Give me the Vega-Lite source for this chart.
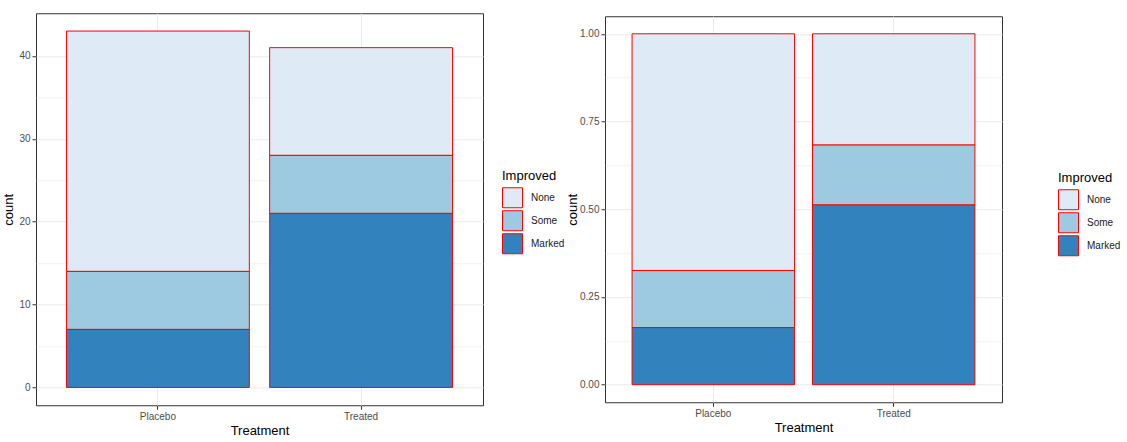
{
  "$schema": "https://vega.github.io/schema/vega-lite/v6.json",
  "padding": {"left": 2, "top": 12, "right": 0, "bottom": 0},
  "background": "white",
  "datasets": {
    "arthritis": [
      {"Treatment": "Placebo", "Improved": "None", "level": 1, "count": 29},
      {"Treatment": "Placebo", "Improved": "Some", "level": 2, "count": 7},
      {"Treatment": "Placebo", "Improved": "Marked", "level": 3, "count": 7},
      {"Treatment": "Treated", "Improved": "None", "level": 1, "count": 13},
      {"Treatment": "Treated", "Improved": "Some", "level": 2, "count": 7},
      {"Treatment": "Treated", "Improved": "Marked", "level": 3, "count": 21}
    ]
  },
  "spacing": 0,
  "center": true,
  "hconcat": [
    {
      "width": 447,
      "height": 392,
      "data": {"name": "arthritis"},
      "mark": {"type": "bar", "stroke": "red", "strokeWidth": 1},
      "encoding": {
        "x": {
          "field": "Treatment", "type": "nominal",
          "scale": {"paddingInner": 0.1, "paddingOuter": 0.15},
          "axis": {"title": "Treatment", "labelAngle": 0, "bandPosition": 0.5, "grid": true, "gridWidth": 1}
        },
        "y": {
          "field": "count", "type": "quantitative", "stack": "zero",
          "scale": {"domain": [-2.15, 45.15], "nice": false, "zero": false},
          "axis": {
            "title": "count",
            "values": [0, 5, 10, 15, 20, 25, 30, 35, 40],
            "labelExpr": "datum.value % 10 === 0 ? format(datum.value, 'd') : ''",
            "tickOpacity": {"condition": {"test": "datum.value % 10 !== 0", "value": 0}, "value": 1},
            "gridWidth": {"condition": {"test": "datum.value % 10 !== 0", "value": 0.6}, "value": 1.1}
          }
        },
        "color": {
          "field": "Improved", "type": "nominal",
          "scale": {"domain": ["None", "Some", "Marked"], "range": ["#DEEBF7", "#9ECAE1", "#3182BD"]},
          "legend": {"orient": "none", "legendX": 466, "legendY": 157, "rowPadding": -7}
        },
        "order": {"field": "level", "type": "quantitative", "sort": "descending"}
      }
    },
    {
      "width": 397,
      "height": 386,
      "data": {"name": "arthritis"},
      "mark": {"type": "bar", "stroke": "red", "strokeWidth": 1},
      "encoding": {
        "x": {
          "field": "Treatment", "type": "nominal",
          "scale": {"paddingInner": 0.1, "paddingOuter": 0.15},
          "axis": {"title": "Treatment", "labelAngle": 0, "bandPosition": 0.5, "grid": true, "gridWidth": 1}
        },
        "y": {
          "field": "count", "type": "quantitative", "stack": "normalize",
          "scale": {"domain": [-0.05, 1.05], "nice": false, "zero": false},
          "axis": {
            "title": "count",
            "titlePadding": 0,
            "values": [0, 0.125, 0.25, 0.375, 0.5, 0.625, 0.75, 0.875, 1],
            "labelExpr": "(datum.value * 4) % 1 === 0 ? format(datum.value, '.2f') : ''",
            "tickOpacity": {"condition": {"test": "(datum.value * 4) % 1 !== 0", "value": 0}, "value": 1},
            "gridWidth": {"condition": {"test": "(datum.value * 4) % 1 !== 0", "value": 0.6}, "value": 1.1}
          }
        },
        "color": {
          "field": "Improved", "type": "nominal",
          "scale": {"domain": ["None", "Some", "Marked"], "range": ["#DEEBF7", "#9ECAE1", "#3182BD"]},
          "legend": {"orient": "none", "legendX": 453, "legendY": 156, "rowPadding": -7}
        },
        "order": {"field": "level", "type": "quantitative", "sort": "descending"}
      }
    }
  ],
  "resolve": {"scale": {"color": "independent", "y": "independent", "x": "independent"}, "legend": {"color": "independent"}},
  "config": {
    "view": {"stroke": "#333333", "strokeWidth": 1},
    "axis": {
      "domain": false,
      "gridColor": "#EBEBEB",
      "tickColor": "#333333",
      "tickSize": 4,
      "labelColor": "#4D4D4D",
      "labelFont": "Liberation Sans",
      "labelFontSize": 10,
      "labelPadding": 2,
      "titleFont": "Liberation Sans",
      "titleFontSize": 13,
      "titleFontWeight": "normal",
      "titleColor": "#000000",
      "titlePadding": 3
    },
    "legend": {
      "titleFont": "Liberation Sans",
      "titleFontSize": 13,
      "titleFontWeight": "normal",
      "titleColor": "#000000",
      "titlePadding": 4,
      "labelFont": "Liberation Sans",
      "labelFontSize": 10,
      "labelColor": "#1A1A1A",
      "labelOffset": 8,
      "symbolType": "square",
      "symbolSize": 400,
      "symbolStrokeColor": "red",
      "symbolStrokeWidth": 1,
      "symbolOpacity": 1,
      "rowPadding": 0
    }
  }
}
